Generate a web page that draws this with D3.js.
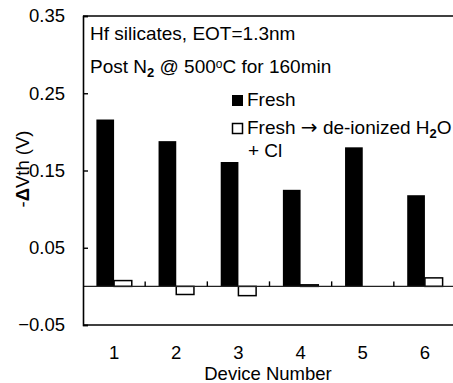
<!DOCTYPE html>
<html>
<head>
<meta charset="utf-8">
<script src="https://cdn.jsdelivr.net/npm/d3@7"></script>
<style>
  html, body { margin: 0; padding: 0; background: #fff; }
  svg { display: block; font-family: "Liberation Sans", Arial, sans-serif; }
</style>
</head>
<body>
<svg id="chart" width="453" height="383"></svg>
<script>
// Threshold-voltage shift per device
const devices = ["1", "2", "3", "4", "5", "6"];
const freshShift = [0.216, 0.188, 0.161, 0.125, 0.180, 0.118];
const rinsedShift = [0.0075, -0.0105, -0.012, 0.002, 0.0, 0.011];
const yTicks = [-0.05, 0.05, 0.15, 0.25, 0.35];

const svg = d3.select("#chart");
const plotLeft = 83, plotRight = 456, plotTop = 16, plotBottom = 325;

const x = d3.scaleBand().domain(devices).range([plotLeft, plotRight]).paddingInner(0).paddingOuter(0);
const y = d3.scaleLinear().domain([-0.05, 0.35]).range([plotBottom, plotTop]);
const barW = 17.7;

// frame lines (top and bottom)
svg.append("line").attr("x1", plotLeft).attr("x2", 453).attr("y1", y(0.35)).attr("y2", y(0.35))
  .attr("stroke", "#000").attr("stroke-width", 1.6);
svg.append("line").attr("x1", plotLeft).attr("x2", 453).attr("y1", y(-0.05)).attr("y2", y(-0.05))
  .attr("stroke", "#000").attr("stroke-width", 1.6);

// fresh bars
svg.append("g").selectAll("rect").data(devices).join("rect")
  .attr("x", (d) => x(d) + x.bandwidth() / 2 - barW)
  .attr("width", barW)
  .attr("y", (d, i) => y(Math.max(0, freshShift[i])))
  .attr("height", (d, i) => Math.abs(y(freshShift[i]) - y(0)))
  .attr("fill", "#000");

// after rinse bars (hollow)
svg.append("g").selectAll("rect").data(devices).join("rect")
  .attr("x", (d) => x(d) + x.bandwidth() / 2)
  .attr("width", barW)
  .attr("y", (d, i) => y(Math.max(0, rinsedShift[i])))
  .attr("height", (d, i) => Math.abs(y(rinsedShift[i]) - y(0)))
  .attr("fill", "#fff")
  .attr("stroke", "#000")
  .attr("stroke-width", 1.5)
  .attr("display", (d, i) => rinsedShift[i] === 0 ? "none" : null);

// zero line with upward ticks between devices
svg.append("line").attr("x1", plotLeft).attr("x2", 453).attr("y1", y(0)).attr("y2", y(0))
  .attr("stroke", "#222").attr("stroke-width", 1.4);
svg.append("g").selectAll("line").data(devices.slice(1)).join("line")
  .attr("x1", d => x(d)).attr("x2", d => x(d))
  .attr("y1", y(0)).attr("y2", y(0) - 5)
  .attr("stroke", "#000").attr("stroke-width", 1.4);

// y axis with inward ticks
const yAxis = svg.append("g").attr("transform", `translate(${plotLeft},0)`)
  .call(d3.axisLeft(y).tickValues(yTicks).tickSize(-5).tickPadding(18)
    .tickFormat(d => d3.format(".2f")(d)));
yAxis.select(".domain").attr("stroke", "#000").attr("stroke-width", 1.6);
yAxis.selectAll(".tick line").attr("stroke", "#000").attr("stroke-width", 1.4);
yAxis.selectAll(".tick text").attr("font-size", 18.5).attr("fill", "#000")
  .attr("font-family", "'Liberation Sans', Arial, sans-serif");

// device labels
svg.append("g").selectAll("text").data(devices).join("text")
  .attr("x", d => x(d) + x.bandwidth() / 2)
  .attr("y", 359)
  .attr("text-anchor", "middle")
  .attr("font-size", 18.5)
  .text(d => d);

svg.append("text").attr("x", 268).attr("y", 380).attr("text-anchor", "middle")
  .attr("font-size", 18.5).text("Device Number");

// y axis title
const yTitle = svg.append("text").attr("transform", "translate(29,169) rotate(-90)")
  .attr("text-anchor", "middle").attr("font-size", 18.5);
yTitle.append("tspan").text("-");
yTitle.append("tspan").attr("font-weight", "bold").text("Δ");
yTitle.append("tspan").text("Vth (V)");

// annotations
svg.append("text").attr("x", 90).attr("y", 40).attr("font-size", 19).text("Hf silicates, EOT=1.3nm");
const post = svg.append("text").attr("x", 90).attr("y", 73).attr("font-size", 19);
post.append("tspan").text("Post N");
post.append("tspan").attr("font-size", 13).attr("font-weight", "bold").attr("dy", 4).text("2");
post.append("tspan").attr("dy", -4).text(" @ 500");
post.append("tspan").attr("font-size", 12).attr("dy", -5).text("o");
post.append("tspan").attr("dy", 5).text("C for 160min");

// legend
svg.append("rect").attr("x", 232).attr("y", 95).attr("width", 11).attr("height", 11).attr("fill", "#000");
svg.append("text").attr("x", 247).attr("y", 106).attr("font-size", 19).text("Fresh");
svg.append("rect").attr("x", 232.5).attr("y", 123.5).attr("width", 10).attr("height", 10)
  .attr("fill", "#fff").attr("stroke", "#000").attr("stroke-width", 1.5);
const leg2 = svg.append("text").attr("x", 247).attr("y", 134).attr("font-size", 19);
leg2.append("tspan").text("Fresh ");
leg2.append("tspan").attr("font-family", "'DejaVu Sans', sans-serif").attr("font-size", 20).text("→");
leg2.append("tspan").text(" de-ionized H");
leg2.append("tspan").attr("font-size", 13).attr("font-weight", "bold").attr("dy", 4).text("2");
leg2.append("tspan").attr("dy", -4).text("O");
svg.append("text").attr("x", 248).attr("y", 157).attr("font-size", 19).text("+ Cl");
</script>
</body>
</html>
